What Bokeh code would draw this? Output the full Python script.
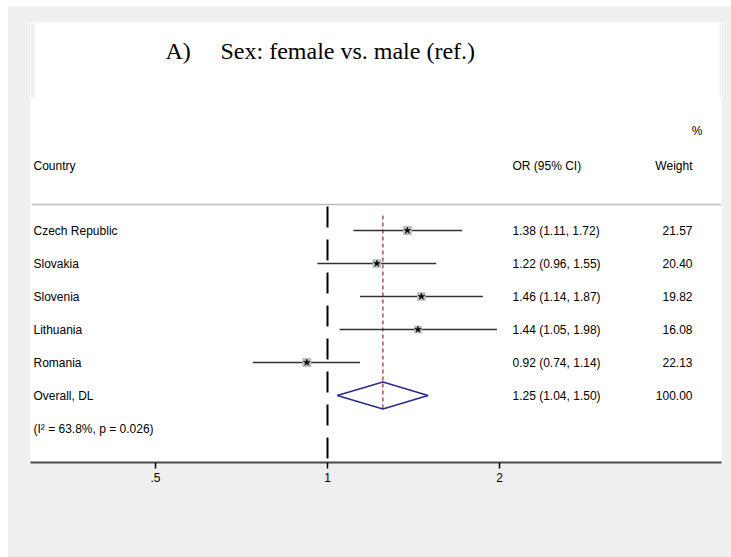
import math
from bokeh.plotting import figure
from bokeh.models import Range1d, FixedTicker, ColumnDataSource
from bokeh.core.properties import value
from bokeh.embed import file_html
from bokeh.resources import INLINE

# ---------------- data ----------------
countries = ["Czech Republic", "Slovakia", "Slovenia", "Lithuania", "Romania"]
odds_ratio = [1.38, 1.22, 1.46, 1.44, 0.92]
ci_low = [1.11, 0.96, 1.14, 1.05, 0.74]
ci_high = [1.72, 1.55, 1.87, 1.98, 1.14]
weights = [21.57, 20.40, 19.82, 16.08, 22.13]
overall_label = "Overall, DL"
overall_or = 1.25
overall_low = 1.04
overall_high = 1.50
overall_weight = 100.00
heterogeneity = "(I\u00b2 = 63.8%, p = 0.026)"
tick_values = [0.5, 1, 2]
tick_labels = [".5", "1", "2"]
title_prefix = "A)"
title_text = "Sex: female vs. male (ref.)"

# ---------------- layout helpers ----------------
GREY = "#efefef"
ROW0_PX, ROW_STEP = 230.0, 33.0


def px2or(px):
    return 2 ** ((px - 327.0) / 172.0)


def py2row(py):
    return 1 + (py - ROW0_PX) / ROW_STEP


n = len(countries)
rows = list(range(1, n + 1))
overall_row = n + 1
het_row = n + 2

p = figure(width=724, height=551, x_axis_type="log",
           x_range=Range1d(px2or(30), px2or(721)),
           y_range=Range1d(py2row(462), py2row(22)),
           output_backend="svg", toolbar_location=None,
           y_axis_location=None,
           min_border_left=23, min_border_right=10,
           min_border_top=16, min_border_bottom=95)
p.margin = (6, 0, 0, 7)
p.background_fill_color = "white"
p.border_fill_color = GREY
p.outline_line_color = None
p.xgrid.visible = False
p.ygrid.visible = False

# notches beside the title box
p.quad(left=[px2or(30), px2or(719)], right=[px2or(34), px2or(721)],
       top=[py2row(22)] * 2, bottom=[py2row(97)] * 2,
       fill_color=GREY, line_color=None)

# x axis
ax = p.xaxis[0]
ax.ticker = FixedTicker(ticks=tick_values, minor_ticks=[])
ax.major_label_overrides = {t: l for t, l in zip(tick_values, tick_labels)}
ax.axis_line_color = "#4a4a4a"
ax.axis_line_width = 2
ax.major_tick_line_color = "black"
ax.major_tick_line_width = 1.5
ax.major_tick_out = 6
ax.major_tick_in = 0
ax.minor_tick_out = 0
ax.minor_tick_in = 0
ax.major_label_standoff = 4
ax.major_label_text_font = "Liberation Sans"
ax.major_label_text_font_size = "12px"
ax.major_label_text_color = "black"

# separator line under the header
p.segment(x0=[px2or(31)], x1=[px2or(721)], y0=[py2row(204)], y1=[py2row(204)],
          line_color="#bdbdbd", line_width=1.5)

# null line (OR = 1)
p.segment(x0=[1], x1=[1], y0=[py2row(206)], y1=[py2row(463)],
          line_color="black", line_width=2, line_dash="21 12")

# overall effect line
p.segment(x0=[overall_or], x1=[overall_or], y0=[py2row(215)], y1=[py2row(411)],
          line_color="#ad4f55", line_width=1.5, line_dash="4 3")

# confidence intervals
p.segment(x0=ci_low, x1=ci_high, y0=rows, y1=rows,
          line_color="#333333", line_width=1.5)

# weight boxes and point estimates
wmax = max(weights)
sizes = [9 * math.sqrt(w / wmax) for w in weights]
p.scatter(x=odds_ratio, y=rows, marker="square", size=sizes,
          fill_color="#bdbdbd", line_color=None)
p.scatter(x=odds_ratio, y=rows, marker="star", size=7,
          fill_color="black", line_color="black", line_width=0.5)

# diamond for overall
half = 13.5 / ROW_STEP
p.patch(x=[overall_low, overall_or, overall_high, overall_or, overall_low],
        y=[overall_row, overall_row - half, overall_row, overall_row + half, overall_row],
        fill_color=None, line_color="#2b2b8c", line_width=1.5)

font = value("Liberation Sans")

# left column: study labels
left_src = ColumnDataSource(dict(
    x=[px2or(33)] * (n + 3),
    y=[py2row(165)] + rows + [overall_row, het_row],
    t=["Country"] + countries + [overall_label, heterogeneity]))
p.text(x="x", y="y", text="t", source=left_src, text_font=font,
       text_font_size="12px", text_color="black",
       text_align="left", text_baseline="middle")

# OR (95% CI) column
or_text = ["OR (95% CI)"] + [f"{o:.2f} ({l:.2f}, {h:.2f})" for o, l, h in zip(odds_ratio, ci_low, ci_high)] \
    + [f"{overall_or:.2f} ({overall_low:.2f}, {overall_high:.2f})"]
or_src = ColumnDataSource(dict(
    x=[px2or(512)] * (n + 2),
    y=[py2row(165)] + rows + [overall_row],
    t=or_text))
p.text(x="x", y="y", text="t", source=or_src, text_font=font,
       text_font_size="12px", text_color="black",
       text_align="left", text_baseline="middle")

# weight column
w_text = ["Weight"] + [f"{w:.2f}" for w in weights] + [f"{overall_weight:.2f}"]
w_src = ColumnDataSource(dict(
    x=[px2or(692)] * (n + 2),
    y=[py2row(165)] + rows + [overall_row],
    t=w_text))
p.text(x="x", y="y", text="t", source=w_src, text_font=font,
       text_font_size="12px", text_color="black",
       text_align="right", text_baseline="middle")
p.text(x=[px2or(702)], y=[py2row(130)], text=["%"], text_font=font,
       text_font_size="12px", text_color="black",
       text_align="right", text_baseline="middle")

# title
p.text(x=[px2or(165)], y=[py2row(50)], text=[title_prefix],
       text_font=value("Liberation Serif"), text_font_size="24px",
       text_color="black", text_align="left", text_baseline="middle")
p.text(x=[px2or(220)], y=[py2row(50)], text=[title_text],
       text_font=value("Liberation Serif"), text_font_size="24px",
       text_color="black", text_align="left", text_baseline="middle")

open("out.html", "w").write(file_html(p, INLINE))
